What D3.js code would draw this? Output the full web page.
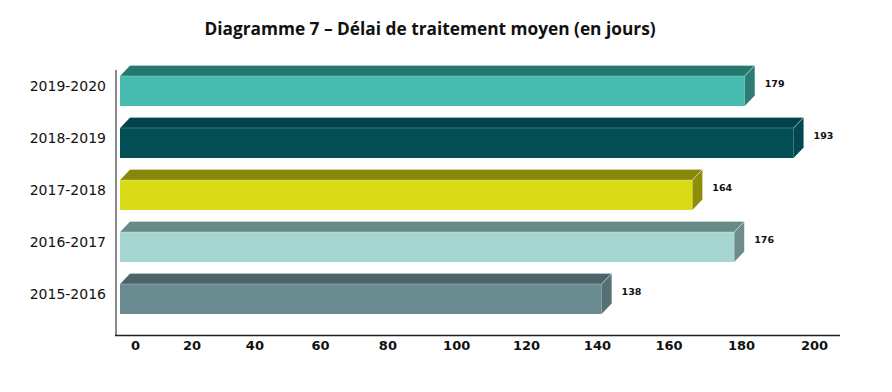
<html lang="fr">
<head>
<meta charset="utf-8">
<title>Diagramme 7</title>
<style>
  body { margin: 0; background: #fff; }
  .title { font-family: "Open Sans", Lato, sans-serif; font-weight: bold; font-size: 17.3px; fill: #111; }
  .cat { font-family: "DejaVu Sans", Verdana, sans-serif; font-size: 14px; fill: #111; }
  .val { font-family: "DejaVu Sans", Verdana, sans-serif; font-weight: bold; font-size: 9.5px; fill: #111; }
  .xaxis text { font-family: "DejaVu Sans", Verdana, sans-serif; font-weight: bold; font-size: 13px; fill: #111; }
</style>
<script src="https://d3js.org/d3.v7.min.js"></script>
</head>
<body>
<svg id="chart" width="892" height="392"></svg>
<script>
// data, top to bottom
var categories = ["2019-2020", "2018-2019", "2017-2018", "2016-2017", "2015-2016"];
var values = [179, 193, 164, 176, 138];
var tickValues = [0, 20, 40, 60, 80, 100, 120, 140, 160, 180, 200];

// colours per bar: front, top, side
var frontColors = ["#48bbb1", "#024e55", "#d9db18", "#a5d6d2", "#6a8b90"];
var topColors   = ["#26786f", "#01434a", "#87870a", "#688a87", "#4b6469"];
var sideColors  = ["#2b7c73", "#02484e", "#8e8e0c", "#6c8d8a", "#556f73"];

var depthX = 10, depthY = 10.5;

var svg = d3.select("#chart");

var x = d3.scaleLinear().domain([0, 200]).range([120, 818]);
// tick labels sit on the projected floor, spaced a bit unevenly
var xLabels = d3.scalePow().exponent(1.08).domain([0, 200]).range([135, 814]);

var y = d3.scaleBand()
    .domain(categories)
    .range([65, 325])
    .paddingInner(0.423)
    .paddingOuter(0.2115);

var bw = y.bandwidth();

// title
svg.append("text")
    .attr("class", "title")
    .attr("x", 430)
    .attr("y", 35)
    .attr("text-anchor", "middle")
    .text("Diagramme 7 \u2013 D\u00e9lai de traitement moyen (en jours)");

// left wall and floor lines
svg.append("line")
    .attr("x1", 116).attr("x2", 116)
    .attr("y1", 70).attr("y2", 336)
    .attr("stroke", "#8a8a8a").attr("stroke-width", 2);

svg.append("line")
    .attr("x1", 115).attr("x2", 840)
    .attr("y1", 335.5).attr("y2", 335.5)
    .attr("stroke", "#222").attr("stroke-width", 1.5);

// bars
var rows = categories.map(function(c, i) { return {cat: c, value: values[i], i: i}; });

var bars = svg.selectAll(".bar")
    .data(rows)
  .enter().append("g")
    .attr("class", "bar");

// top face
bars.append("path")
    .attr("d", function(d) {
      var x0 = x(0), x1 = x(d.value), t = y(d.cat);
      return "M" + x0 + "," + t + "L" + (x0 + depthX) + "," + (t - depthY) +
             "L" + (x1 + depthX) + "," + (t - depthY) + "L" + x1 + "," + t + "Z";
    })
    .attr("fill", function(d) { return topColors[d.i]; });

// side face
bars.append("path")
    .attr("d", function(d) {
      var x1 = x(d.value), t = y(d.cat);
      return "M" + x1 + "," + t + "L" + (x1 + depthX) + "," + (t - depthY) +
             "L" + (x1 + depthX) + "," + (t - depthY + bw) + "L" + x1 + "," + (t + bw) + "Z";
    })
    .attr("fill", function(d) { return sideColors[d.i]; });

// front face
bars.append("rect")
    .attr("x", x(0))
    .attr("y", function(d) { return y(d.cat); })
    .attr("width", function(d) { return x(d.value) - x(0); })
    .attr("height", bw)
    .attr("fill", function(d) { return frontColors[d.i]; });

// faint light edges
bars.append("path")
    .attr("d", function(d) {
      var x0 = x(0), x1 = x(d.value), t = y(d.cat);
      return "M" + x0 + "," + t + "L" + (x0 + depthX) + "," + (t - depthY) +
             "L" + (x1 + depthX) + "," + (t - depthY) + "L" + x1 + "," + t + "Z" +
             "M" + x1 + "," + t + "L" + (x1 + depthX) + "," + (t - depthY);
    })
    .attr("fill", "none")
    .attr("stroke", "#ffffff")
    .attr("stroke-opacity", 0.25)
    .attr("stroke-width", 1);

// value labels
bars.append("text")
    .attr("class", "val")
    .attr("x", function(d) { return x(d.value) + depthX + 10; })
    .attr("y", function(d) { return y(d.cat) + bw / 2 - 7.5; })
    .attr("dy", "0.35em")
    .text(function(d) { return d.value; });

// category labels
svg.selectAll(".cat")
    .data(categories)
  .enter().append("text")
    .attr("class", "cat")
    .attr("x", 106)
    .attr("y", function(d) { return y(d) + bw / 2 - 4.5; })
    .attr("dy", "0.35em")
    .attr("text-anchor", "end")
    .text(function(d) { return d; });

// x axis labels
var xAxis = d3.axisBottom(xLabels)
    .tickValues(tickValues)
    .tickSize(0)
    .tickPadding(0);

var gx = svg.append("g")
    .attr("class", "xaxis")
    .attr("transform", "translate(0,341)")
    .call(xAxis);
gx.select(".domain").remove();
</script>
</body>
</html>
